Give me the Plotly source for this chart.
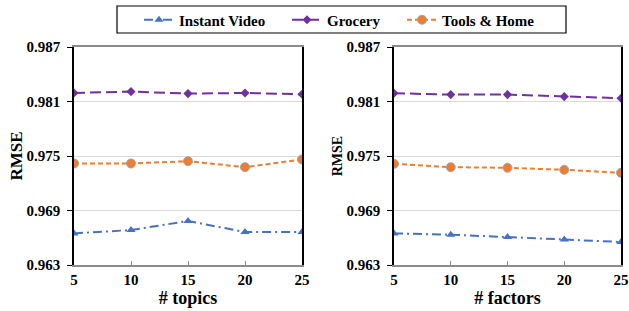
import plotly.graph_objects as go

x_vals = [5, 10, 15, 20, 25]
y_ticks = [0.963, 0.969, 0.975, 0.981, 0.987]
y_tick_labels = ["0.963", "0.969", "0.975", "0.981", "0.987"]

# Left panel: # topics
topics_instant = [0.96648, 0.96685, 0.96784, 0.96663, 0.96663]
topics_grocery = [0.98194, 0.98209, 0.98187, 0.98194, 0.98180]
topics_tools = [0.97418, 0.97418, 0.97443, 0.97377, 0.97462]

# Right panel: # factors
factors_instant = [0.96648, 0.96633, 0.96608, 0.96582, 0.96553]
factors_grocery = [0.98191, 0.98176, 0.98176, 0.98154, 0.98136]
factors_tools = [0.97414, 0.97377, 0.97370, 0.97348, 0.97315]

series_names = ["Instant Video", "Grocery", "Tools & Home"]

W, H = 629, 311
FONT = "Liberation Serif, Times New Roman, serif"

styles = {
    "Instant Video": dict(line=dict(color="#4472C4", width=2, dash="9px,4px,2px,4px"),
                          marker=dict(symbol="triangle-up", size=8, color="#4472C4")),
    "Grocery": dict(line=dict(color="#7030A0", width=2, dash="11px,5px"),
                    marker=dict(symbol="diamond", size=7, color="#7030A0")),
    "Tools & Home": dict(line=dict(color="#ED7D31", width=2, dash="5px,3px"),
                         marker=dict(symbol="circle", size=9, color="#ED7D31",
                                     line=dict(color="#A5A5A5", width=1))),
}

legend_ids = ["legend", "legend2", "legend3"]
legend_text_x = [179, 327, 442]  # px where each legend label starts

fig = go.Figure()
left = [topics_instant, topics_grocery, topics_tools]
right = [factors_instant, factors_grocery, factors_tools]
for name, lid, yl, yr in zip(series_names, legend_ids, left, right):
    st = styles[name]
    fig.add_trace(go.Scatter(x=x_vals, y=yl, mode="lines+markers", name=name,
                             xaxis="x", yaxis="y", legendgroup=name, legend=lid, **st))
    fig.add_trace(go.Scatter(x=x_vals, y=yr, mode="lines+markers", name=name,
                             xaxis="x2", yaxis="y2", legendgroup=name, legend=lid,
                             showlegend=False, **st))

ydom = [1 - 265 / H, 1 - 47 / H]
common_x = dict(range=[5, 25], tickvals=x_vals, showline=True, linecolor="#8c8c8c",
                linewidth=2, mirror=True, ticks="inside", tickcolor="#8c8c8c", ticklen=4,
                showgrid=False, zeroline=False, automargin=False,
                ticklabeloverflow="allow",
                tickfont=dict(family=FONT, size=15, color="black", weight="bold"))
common_y = dict(range=[0.963, 0.987], tickvals=y_ticks, ticktext=y_tick_labels,
                showline=True, linecolor="black", linewidth=1.5, mirror=True,
                ticks="outside", tickcolor="black", ticklen=5, showgrid=True,
                gridcolor="#d9d9d9", gridwidth=1, zeroline=False, automargin=False,
                ticklabelstandoff=4,
                tickfont=dict(family=FONT, size=15, color="black", weight="bold"))

legend_common = dict(orientation="h", xanchor="left", yanchor="middle", y=1 - 20 / H,
                     borderwidth=0, bgcolor="rgba(0,0,0,0)",
                     font=dict(family=FONT, size=15, color="black", weight="bold"),
                     itemwidth=30)

layout_legends = {}
for lid, tx in zip(legend_ids, legend_text_x):
    layout_legends[lid] = dict(x=(tx - 40) / W, **legend_common)

fig.update_layout(
    template="none",
    width=W, height=H,
    margin=dict(l=0, r=0, t=0, b=0, pad=0, autoexpand=False),
    paper_bgcolor="white", plot_bgcolor="white",
    showlegend=True,
    **layout_legends,
    xaxis=dict(domain=[74 / W, 302 / W], anchor="y",
               title=dict(text="# topics", standoff=0,
                          font=dict(family=FONT, size=18, color="black", weight="bold")),
               **common_x),
    yaxis=dict(domain=ydom, anchor="x",
               title=dict(text="RMSE", standoff=0,
                          font=dict(family=FONT, size=17, color="black", weight="bold")),
               **common_y),
    xaxis2=dict(domain=[394 / W, 621 / W], anchor="y2",
                title=dict(text="# factors", standoff=0,
                           font=dict(family=FONT, size=18, color="black", weight="bold")),
                **common_x),
    yaxis2=dict(domain=ydom, anchor="x2",
                title=dict(text="RMSE", standoff=1,
                           font=dict(family=FONT, size=14, color="black", weight="bold")),
                **common_y),
)

# legend frame
fig.add_shape(type="rect", xref="paper", yref="paper",
              x0=117 / W, x1=566 / W, y0=1 - 33 / H, y1=1 - 6 / H,
              line=dict(color="black", width=1.2), fillcolor="rgba(0,0,0,0)", layer="below")

fig.write_html("out.html", config={"displayModeBar": False},
               post_script="document.body.style.margin='0';")
